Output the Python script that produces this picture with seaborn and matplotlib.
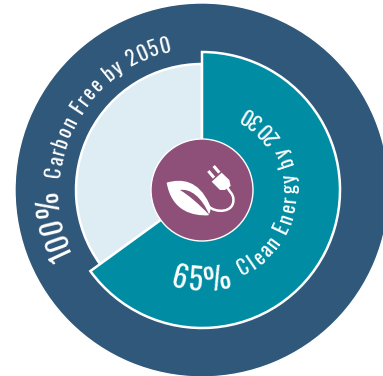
import numpy as np
import matplotlib
matplotlib.use("Agg")
import matplotlib.pyplot as plt
import seaborn as sns
from matplotlib import font_manager as fm
from matplotlib.font_manager import FontProperties
from matplotlib.patches import PathPatch
from matplotlib.path import Path
from matplotlib.textpath import TextPath

# Chart values
clean_energy_share = [65, 35]
carbon_free_share = [100]
carbon_free_label = ("100%", "Carbon Free by 2050")
clean_energy_label = ("65%", "Clean Energy by 2030")

NAVY, TEAL, PALE, PLUM = "#30587a", "#008da3", "#deedf3", "#8e4f78"

sns.set_theme(style="white", rc={"figure.facecolor": "white"})

installed = {f.name for f in fm.fontManager.ttflist}
FONT = next(n for n in ["Oswald", "Fira Sans Extra Condensed", "Barlow Condensed", "Liberation Sans"]
            if n in installed)

fig = plt.figure(figsize=(3.83, 3.76), dpi=100)
ax = fig.add_axes([0, 0, 1, 1])

W, H = 383, 376
CX, CY = 202, H - 190
edge = {"edgecolor": "white", "linewidth": 1.8, "joinstyle": "miter"}

# Concentric rings, innermost drawn last
ax.pie(carbon_free_share, radius=187, center=(CX, CY), colors=[NAVY], frame=False)
wedges, _ = ax.pie(clean_energy_share, radius=126, center=(CX, CY), startangle=90,
                   counterclock=False, colors=[PALE, PALE], wedgeprops=edge)
wedges[0].set_visible(False)
wedges, _ = ax.pie(clean_energy_share, radius=138, center=(CX, CY), startangle=90,
                   counterclock=False, colors=[TEAL, TEAL], wedgeprops=edge)
wedges[1].set_visible(False)
ax.pie([1], radius=51, center=(CX, CY), colors=[PLUM])

ax.set_xlim(0, W)
ax.set_ylim(0, H)
ax.set_aspect("equal")
ax.axis("off")


def advance(ch, size):
    """Horizontal advance of a character in points of this font."""
    fp = FontProperties(family=FONT, size=size, weight=500)
    wide = TextPath((0, 0), "n" + ch + "n", prop=fp).get_extents().width
    base = TextPath((0, 0), "nn", prop=fp).get_extents().width
    return wide - base


def curved_text(text, size, radius, start_deg, end_deg, inward):
    """Lay out a string along an arc, angles clockwise from the top."""
    widths = np.array([advance(c, size) for c in text]) * 100 / 72
    total = np.radians(abs(end_deg - start_deg)) * radius
    gap = (total - widths.sum()) / max(len(text) - 1, 1)
    direction = 1 if end_deg > start_deg else -1
    pos = 0.0
    for c, wd in zip(text, widths):
        theta = start_deg + direction * np.degrees((pos + wd / 2) / radius)
        t = np.radians(theta)
        x, y = CX + radius * np.sin(t), CY + radius * np.cos(t)
        rot = -theta + (180 if inward else 0)
        ax.text(x, y, c, color="white", fontsize=size, family=FONT, fontweight=500,
                rotation=rot, rotation_mode="anchor", ha="center", va="baseline")
        pos += wd + gap


curved_text(carbon_free_label[0], 21, 144, -117, -90, inward=False)
curved_text(carbon_free_label[1], 15, 142, -85, -12, inward=False)
curved_text(clean_energy_label[0], 21.5, 101, 199, 163, inward=True)
curved_text(clean_energy_label[1], 15, 95, 155, 27, inward=True)


def icon_xy(pts):
    """Map icon outline points, given on a 330-unit grid, onto the hub."""
    pts = np.asarray(pts, float)
    return np.column_stack([140 + pts[:, 0] / 3, H - (130 + pts[:, 1] / 3)])


def curve(pts, **kw):
    codes = [Path.MOVETO] + [Path.CURVE4] * (len(pts) - 1)
    ax.add_patch(PathPatch(Path(icon_xy(pts), codes), **kw))


# Leaf with its vein
curve([(80, 158), (125, 145), (175, 150), (208, 222),
       (215, 238), (210, 248), (205, 256),
       (160, 258), (95, 245), (80, 158)],
      facecolor="white", edgecolor="none")
curve([(120, 180), (150, 175), (185, 200), (208, 255),
       (175, 220), (145, 195), (120, 180)],
      facecolor=PLUM, edgecolor="none")
# Cable running from the leaf to the plug
curve([(205, 228), (225, 250), (285, 250), (280, 205),
       (278, 190), (268, 185), (262, 172)],
      facecolor="none", edgecolor="white", linewidth=1.8)
# Plug body and prongs
plug = icon_xy([(215, 155), (245, 128), (268, 150), (272, 168), (255, 180),
                (240, 180), (215, 155)])
ax.fill(plug[:, 0], plug[:, 1], color="white", lw=0)
for a, b in [((205, 123), (222, 143)), ((221, 108), (238, 128))]:
    seg = icon_xy([a, b])
    ax.plot(seg[:, 0], seg[:, 1], color="white", lw=2.2, solid_capstyle="butt")

fig.savefig("out.png", dpi=100, facecolor="white")
